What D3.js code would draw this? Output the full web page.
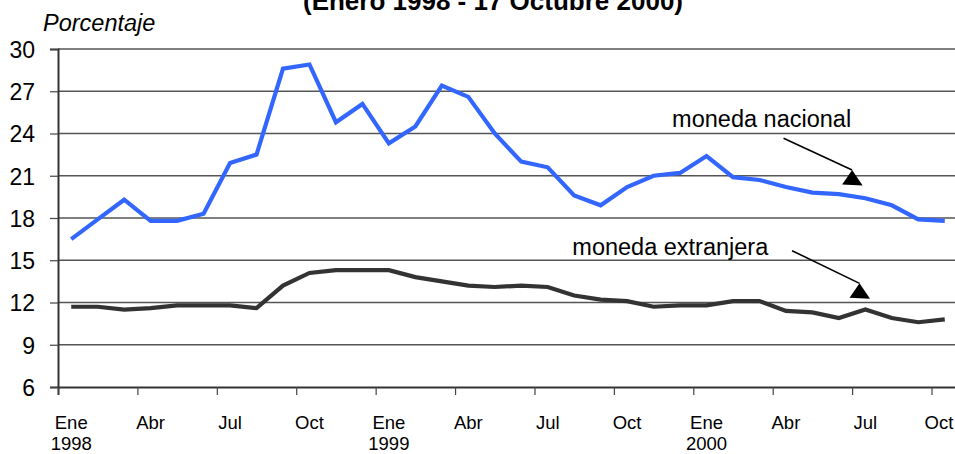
<!DOCTYPE html>
<html>
<head>
<meta charset="utf-8">
<script src="https://cdn.jsdelivr.net/npm/d3@7"></script>
<style>
  body { margin: 0; background: #fff; }
  svg { display: block; font-family: Arial, "Liberation Sans", sans-serif; }
</style>
</head>
<body>
<div id="chart"></div>
<script>
// Tasas de interés: moneda nacional vs moneda extranjera
//   X: months Ene 1998 – Oct 2000 (category axis, tick every 3 months)
//   Y: Porcentaje, 6–30

const months = [
  "Ene 1998", "Feb", "Mar", "Abr", "May", "Jun", "Jul", "Ago", "Sep", "Oct", "Nov", "Dic",
  "Ene 1999", "Feb", "Mar", "Abr", "May", "Jun", "Jul", "Ago", "Sep", "Oct", "Nov", "Dic",
  "Ene 2000", "Feb", "Mar", "Abr", "May", "Jun", "Jul", "Ago", "Sep", "Oct"
];

const nacional = [
  16.5, 17.9, 19.3, 17.8, 17.8, 18.3, 21.9, 22.5, 28.6, 28.9, 24.8, 26.1,
  23.3, 24.5, 27.4, 26.6, 24.0, 22.0, 21.6, 19.6, 18.9, 20.2, 21.0, 21.2,
  22.4, 20.9, 20.7, 20.2, 19.8, 19.7, 19.4, 18.9, 17.9, 17.8
];

const extranjera = [
  11.7, 11.7, 11.5, 11.6, 11.8, 11.8, 11.8, 11.6, 13.2, 14.1, 14.3, 14.3,
  14.3, 13.8, 13.5, 13.2, 13.1, 13.2, 13.1, 12.5, 12.2, 12.1, 11.7, 11.8,
  11.8, 12.1, 12.1, 11.4, 11.3, 10.9, 11.5, 10.9, 10.6, 10.8
];

const yTicks = [6, 9, 12, 15, 18, 21, 24, 27, 30];
const xTickLabels = [
  ["Ene", "1998"], ["Abr"], ["Jul"], ["Oct"],
  ["Ene", "1999"], ["Abr"], ["Jul"], ["Oct"],
  ["Ene", "2000"], ["Abr"], ["Jul"], ["Oct"]
];

const title = "(Enero 1998 - 17 Octubre 2000)";
const yLabel = "Porcentaje";

// annotation labels + arrows, in chart units (x = month position, y = %)
const labels = [
  { text: "moneda nacional",   x: 23.2,  y: 24.48 },
  { text: "moneda extranjera", x: 19.43, y: 15.37 }
];
const arrows = [
  { x1: 27.41, y1: 23.66, x2: 30.0,  y2: 21.41 },
  { x1: 27.73, y1: 15.68, x2: 30.28, y2: 13.36 }
];

const width = 955, height = 454;
const margin = { top: 49, right: -3, bottom: 67, left: 58 };
const plot_width  = width  - margin.left - margin.right;
const plot_height = height - margin.top  - margin.bottom;

const svg = d3.select("#chart").append("svg")
  .attr("width", width)
  .attr("height", height);

const plot = svg.append("g")
  .attr("transform", `translate(${margin.left},${margin.top})`);

const xScale = d3.scaleLinear()
  .domain([0, months.length])
  .range([0, plot_width]);

const yScale = d3.scaleLinear()
  .domain([6, 30])
  .range([plot_height, 0]);

// GRID
plot.append("g")
  .selectAll("line")
  .data(yTicks.filter(d => d > 6))
  .join("line")
  .attr("x1", 0).attr("x2", plot_width)
  .attr("y1", d => yScale(d)).attr("y2", d => yScale(d))
  .style("stroke", "#555")
  .style("stroke-width", 1.4);

// Y AXIS
const yAxis = plot.append("g")
  .call(d3.axisLeft(yScale).tickValues(yTicks).tickSize(8).tickPadding(15));
yAxis.select(".domain").style("stroke", "#333").style("stroke-width", 2);
yAxis.selectAll(".tick line").style("stroke", "#444").style("stroke-width", 1.2);
yAxis.selectAll("text")
  .style("font-size", "23px")
  .style("fill", "#000")
  .attr("dy", "0.36em");

// X AXIS
const xTickPos = d3.range(0, months.length, 3);
const xAxis = plot.append("g")
  .attr("transform", `translate(0,${plot_height})`)
  .call(d3.axisBottom(xScale).tickValues(xTickPos).tickSize(8).tickFormat(""));
xAxis.select(".domain").style("stroke", "#333").style("stroke-width", 2);
xAxis.selectAll(".tick line").style("stroke", "#444").style("stroke-width", 1.2);

// category labels sit at the month centre, kept inside the picture
const labelX = d => Math.min(xScale(d + 0.5), width - margin.left - 16);

const xLab = plot.append("g")
  .selectAll("text")
  .data(xTickPos)
  .join("text")
  .attr("x", labelX)
  .attr("y", plot_height + 42)
  .attr("text-anchor", "middle")
  .style("font-size", "18.5px")
  .style("fill", "#000");
xLab.each(function(d, i) {
  const t = d3.select(this);
  xTickLabels[i].forEach((s, j) => {
    t.append("tspan")
      .attr("x", labelX(d))
      .attr("dy", j === 0 ? 0 : 21)
      .text(s);
  });
});

// LINES
const lineGen = d3.line()
  .x((d, i) => xScale(i + 0.5))
  .y(d => yScale(d));

plot.append("path")
  .datum(extranjera)
  .attr("d", lineGen)
  .style("fill", "none")
  .style("stroke", "#333333")
  .style("stroke-width", 4.2);

plot.append("path")
  .datum(nacional)
  .attr("d", lineGen)
  .style("fill", "none")
  .style("stroke", "#3366ff")
  .style("stroke-width", 4.2);

// ANNOTATIONS
plot.selectAll(".annot")
  .data(labels)
  .join("text")
  .attr("class", "annot")
  .attr("x", d => xScale(d.x))
  .attr("y", d => yScale(d.y))
  .style("font-size", "23.5px")
  .style("fill", "#000")
  .text(d => d.text);

arrows.forEach(a => {
  const tx = xScale(a.x2), ty = yScale(a.y2);
  plot.append("line")
    .attr("x1", xScale(a.x1)).attr("y1", yScale(a.y1))
    .attr("x2", tx).attr("y2", ty)
    .style("stroke", "#000")
    .style("stroke-width", 1.6);
  plot.append("path")
    .attr("d", `M${tx},${ty}L${tx - 10},${ty + 14.5}L${tx + 10.5},${ty + 15.5}Z`)
    .style("fill", "#000");
});

// TITLE + Y LABEL
svg.append("text")
  .attr("x", 493)
  .attr("y", 10)
  .attr("text-anchor", "middle")
  .style("font-size", "26px")
  .style("font-weight", "bold")
  .text(title);

svg.append("text")
  .attr("x", 43)
  .attr("y", 30.5)
  .style("font-size", "23.5px")
  .style("font-style", "italic")
  .text(yLabel);
</script>
</body>
</html>
